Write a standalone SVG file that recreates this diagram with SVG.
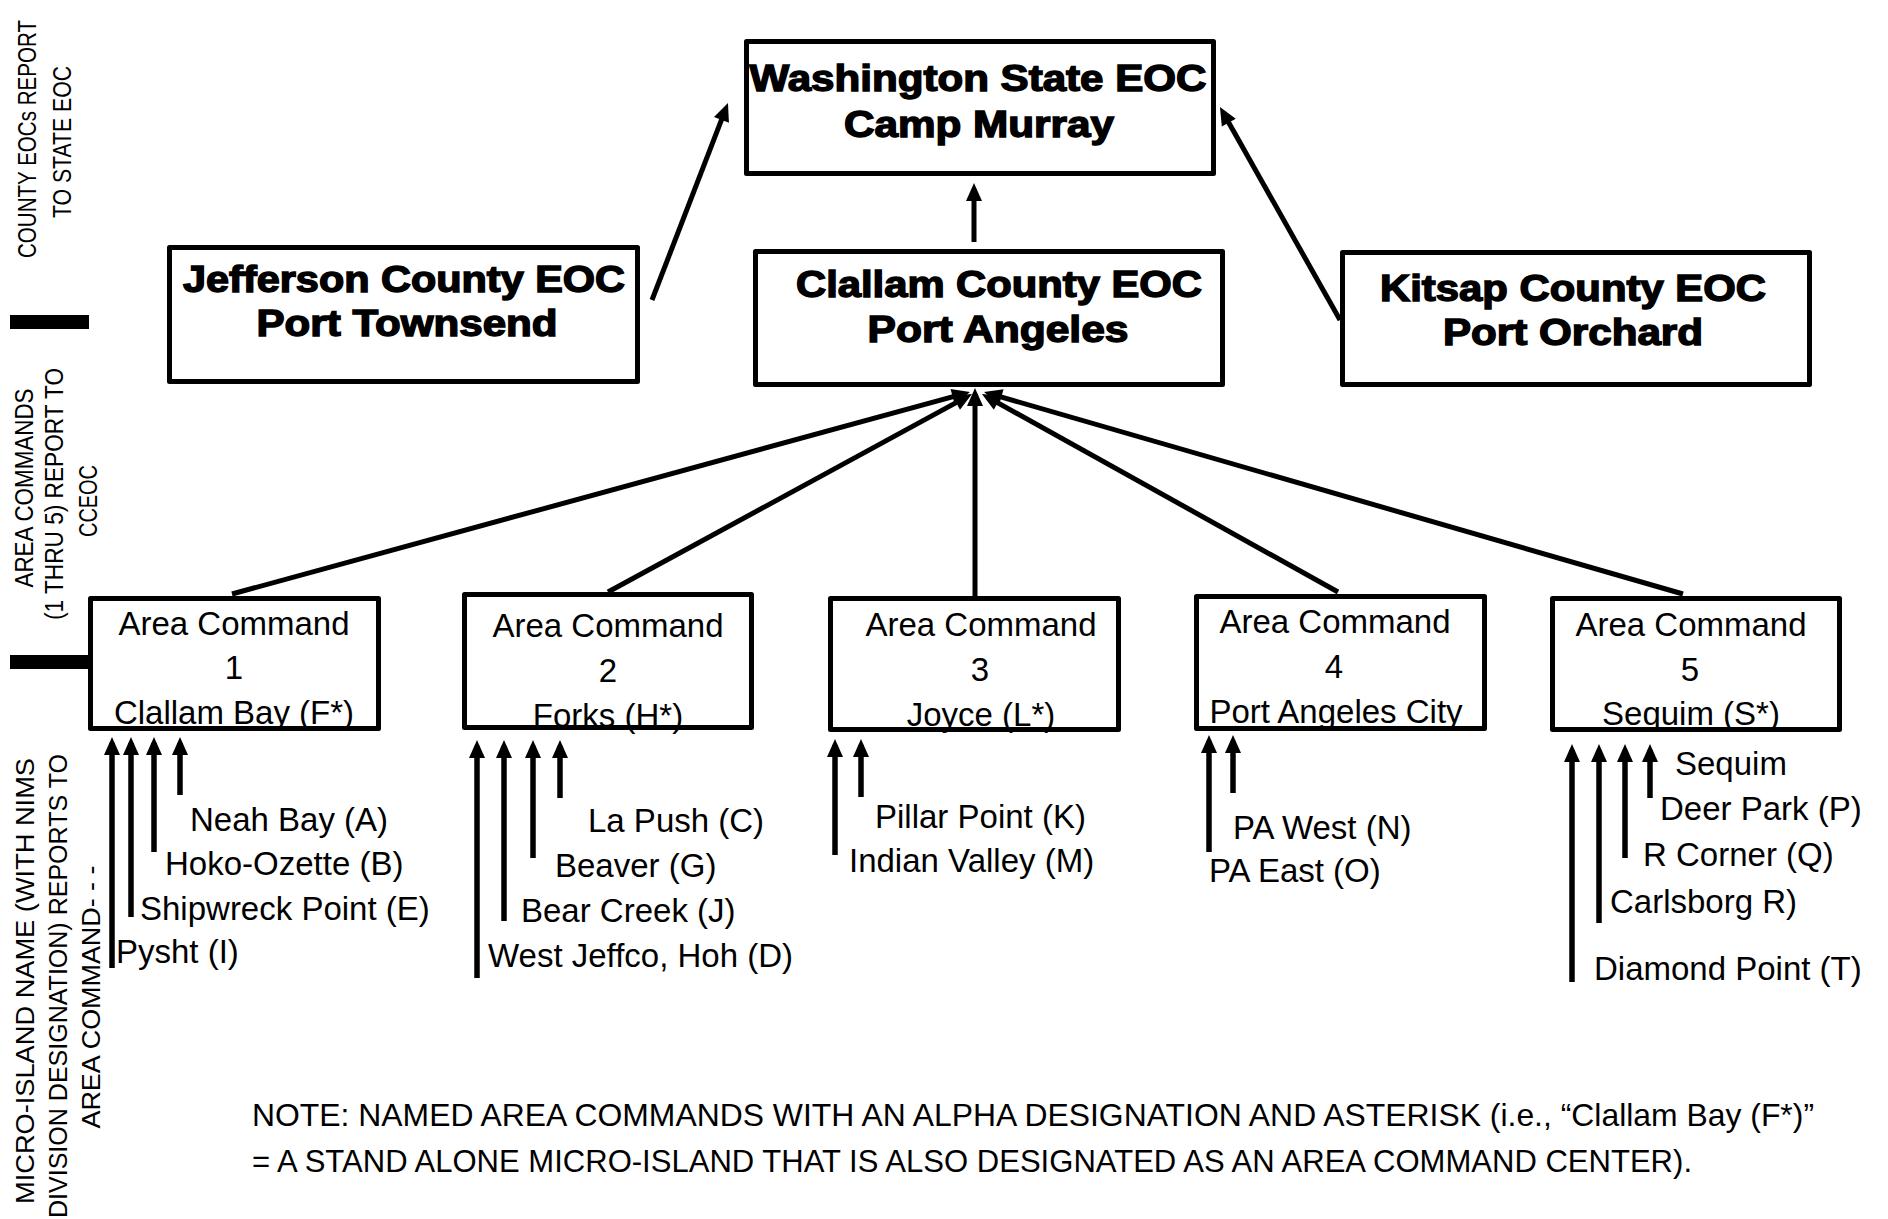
<svg xmlns="http://www.w3.org/2000/svg" width="1888" height="1219" viewBox="0 0 1888 1219">
<style>
.box{fill:#fff;stroke:#000;stroke-width:5;stroke-linejoin:round}
.hd{font-family:"Liberation Sans",Arial,sans-serif;font-weight:bold;font-size:36px;fill:#000;stroke:#000;stroke-width:1.4;text-anchor:middle}
.lb{font-family:"Liberation Sans",Arial,sans-serif;font-size:33px;fill:#000}
.ac{text-anchor:middle}
.rt{font-family:"Liberation Sans",Arial,sans-serif;font-size:25px;fill:#000;text-anchor:middle}
.nt{font-family:"Liberation Sans",Arial,sans-serif;font-size:32px;fill:#000}
.cn{stroke:#000;stroke-width:5;fill:none;marker-end:url(#ah)}
.mi{stroke:#000;stroke-width:5.5;fill:none;marker-end:url(#ah)}
.bar{fill:#000}
</style>
<defs>
<marker id="ah" markerUnits="userSpaceOnUse" markerWidth="20" markerHeight="18" refX="12" refY="8" orient="auto" overflow="visible"><path d="M0,0 L18,8 L0,16 Z" fill="#000"/></marker>
</defs>
<rect width="1888" height="1219" fill="#fff"/>

<g id="side-labels">
<rect class="bar" x="10" y="315" width="79" height="14"/>
<rect class="bar" x="10" y="655" width="78" height="14"/>
<text class="rt" transform="translate(36,139) rotate(-90)" textLength="238" lengthAdjust="spacingAndGlyphs">COUNTY EOCs REPORT</text>
<text class="rt" transform="translate(71,142) rotate(-90)" textLength="152" lengthAdjust="spacingAndGlyphs">TO STATE EOC</text>
<text class="rt" transform="translate(33,488) rotate(-90)" textLength="199" lengthAdjust="spacingAndGlyphs">AREA COMMANDS</text>
<text class="rt" transform="translate(63,494) rotate(-90)" textLength="252" lengthAdjust="spacingAndGlyphs">(1 THRU 5) REPORT TO</text>
<text class="rt" transform="translate(97,501) rotate(-90)" textLength="72" lengthAdjust="spacingAndGlyphs">CCEOC</text>
<text class="rt" transform="translate(34,981) rotate(-90)" textLength="446" lengthAdjust="spacingAndGlyphs">MICRO-ISLAND NAME (WITH NIMS</text>
<text class="rt" transform="translate(67,986) rotate(-90)" textLength="464" lengthAdjust="spacingAndGlyphs">DIVISION DESIGNATION) REPORTS TO</text>
<text class="rt" transform="translate(100,997) rotate(-90)" textLength="263" lengthAdjust="spacingAndGlyphs">AREA COMMAND- - -</text>
</g>

<g id="connectors">
<line class="cn" x1="652" y1="300" x2="725.8" y2="108.6"/>
<line class="cn" x1="974" y1="242" x2="974" y2="189"/>
<line class="cn" x1="1340" y1="320" x2="1222.9" y2="112.2"/>
<line class="cn" x1="232" y1="594" x2="964.2" y2="393.6"/>
<line class="cn" x1="608" y1="592" x2="966.7" y2="396.9"/>
<line class="cn" x1="975" y1="596" x2="975" y2="394"/>
<line class="cn" x1="1338" y1="592" x2="987.2" y2="396.9"/>
<line class="cn" x1="1683" y1="594" x2="989.8" y2="393.7"/>
<line class="mi" x1="112" y1="968" x2="112" y2="743"/>
<line class="mi" x1="131" y1="917" x2="131" y2="743"/>
<line class="mi" x1="154" y1="852" x2="154" y2="743"/>
<line class="mi" x1="180" y1="795" x2="180" y2="743"/>
<line class="mi" x1="477" y1="978" x2="477" y2="746"/>
<line class="mi" x1="504" y1="921" x2="504" y2="746"/>
<line class="mi" x1="533" y1="858" x2="533" y2="746"/>
<line class="mi" x1="560" y1="798" x2="560" y2="746"/>
<line class="mi" x1="835" y1="855" x2="835" y2="745"/>
<line class="mi" x1="861" y1="797" x2="861" y2="745"/>
<line class="mi" x1="1209" y1="852" x2="1209" y2="741"/>
<line class="mi" x1="1233" y1="793" x2="1233" y2="741"/>
<line class="mi" x1="1572" y1="982" x2="1572" y2="750"/>
<line class="mi" x1="1599" y1="923" x2="1599" y2="750"/>
<line class="mi" x1="1625" y1="858" x2="1625" y2="750"/>
<line class="mi" x1="1650" y1="798" x2="1650" y2="750"/>
</g>

<g id="wa-state-eoc">
<rect class="box" x="746.5" y="41.5" width="467" height="132"/>
<text class="hd" x="978" y="91" textLength="457" lengthAdjust="spacingAndGlyphs">Washington State EOC</text>
<text class="hd" x="979" y="137" textLength="270" lengthAdjust="spacingAndGlyphs">Camp Murray</text>
</g>
<g id="jefferson-eoc">
<rect class="box" x="169.5" y="247.5" width="468" height="134"/>
<text class="hd" x="404" y="292" textLength="442" lengthAdjust="spacingAndGlyphs">Jefferson County EOC</text>
<text class="hd" x="407" y="336" textLength="301" lengthAdjust="spacingAndGlyphs">Port Townsend</text>
</g>
<g id="clallam-eoc">
<rect class="box" x="755.5" y="251.5" width="467" height="133"/>
<text class="hd" x="999" y="297" textLength="406" lengthAdjust="spacingAndGlyphs">Clallam County EOC</text>
<text class="hd" x="998" y="342" textLength="261" lengthAdjust="spacingAndGlyphs">Port Angeles</text>
</g>
<g id="kitsap-eoc">
<rect class="box" x="1342.5" y="252.5" width="467" height="132"/>
<text class="hd" x="1573" y="301" textLength="386" lengthAdjust="spacingAndGlyphs">Kitsap County EOC</text>
<text class="hd" x="1573" y="345" textLength="260" lengthAdjust="spacingAndGlyphs">Port Orchard</text>
</g>

<g id="area-command-1">
<rect class="box" x="90.5" y="598.5" width="288" height="130"/>
<text class="lb ac" x="234" y="635">Area Command</text>
<text class="lb ac" x="234" y="679">1</text>
<text class="lb ac" x="234" y="724">Clallam Bay (F*)</text>
</g>
<g id="area-command-2">
<rect class="box" x="464.5" y="594.5" width="287" height="133"/>
<text class="lb ac" x="608" y="637">Area Command</text>
<text class="lb ac" x="608" y="682">2</text>
<text class="lb ac" x="608" y="727">Forks (H*)</text>
</g>
<g id="area-command-3">
<rect class="box" x="830.5" y="598.5" width="288" height="131"/>
<text class="lb ac" x="981" y="636">Area Command</text>
<text class="lb ac" x="980" y="681">3</text>
<text class="lb ac" x="981" y="726">Joyce (L*)</text>
</g>
<g id="area-command-4">
<rect class="box" x="1196.5" y="596.5" width="288" height="132"/>
<text class="lb ac" x="1335" y="633">Area Command</text>
<text class="lb ac" x="1334" y="678">4</text>
<text class="lb ac" x="1336" y="723">Port Angeles City</text>
</g>
<g id="area-command-5">
<rect class="box" x="1552.5" y="598.5" width="287" height="131"/>
<text class="lb ac" x="1691" y="636">Area Command</text>
<text class="lb ac" x="1690" y="681">5</text>
<text class="lb ac" x="1691" y="725">Sequim (S*)</text>
</g>

<g id="mi-neah-bay"><text class="lb" x="190" y="831">Neah Bay (A)</text></g>
<g id="mi-hoko-ozette"><text class="lb" x="165" y="875">Hoko-Ozette (B)</text></g>
<g id="mi-shipwreck-point"><text class="lb" x="140" y="920">Shipwreck Point (E)</text></g>
<g id="mi-pysht"><text class="lb" x="116" y="963">Pysht (I)</text></g>

<g id="mi-la-push"><text class="lb" x="588" y="832">La Push (C)</text></g>
<g id="mi-beaver"><text class="lb" x="555" y="877">Beaver (G)</text></g>
<g id="mi-bear-creek"><text class="lb" x="521" y="922">Bear Creek (J)</text></g>
<g id="mi-west-jeffco"><text class="lb" x="488" y="967">West Jeffco, Hoh (D)</text></g>

<g id="mi-pillar-point"><text class="lb" x="875" y="828">Pillar Point (K)</text></g>
<g id="mi-indian-valley"><text class="lb" x="849" y="872">Indian Valley (M)</text></g>

<g id="mi-pa-west"><text class="lb" x="1233" y="839">PA West (N)</text></g>
<g id="mi-pa-east"><text class="lb" x="1209" y="882">PA East (O)</text></g>

<g id="mi-sequim"><text class="lb" x="1675" y="775">Sequim</text></g>
<g id="mi-deer-park"><text class="lb" x="1660" y="820">Deer Park (P)</text></g>
<g id="mi-r-corner"><text class="lb" x="1643" y="866">R Corner (Q)</text></g>
<g id="mi-carlsborg"><text class="lb" x="1610" y="913">Carlsborg R)</text></g>
<g id="mi-diamond-point"><text class="lb" x="1594" y="980">Diamond Point (T)</text></g>

<g id="note">
<text class="nt" x="252" y="1126" textLength="1562" lengthAdjust="spacingAndGlyphs">NOTE: NAMED AREA COMMANDS WITH AN ALPHA DESIGNATION AND ASTERISK (i.e., “Clallam Bay (F*)”</text>
<text class="nt" x="252" y="1172" textLength="1440" lengthAdjust="spacingAndGlyphs">= A STAND ALONE MICRO-ISLAND THAT IS ALSO DESIGNATED AS AN AREA COMMAND CENTER).</text>
</g>
</svg>
